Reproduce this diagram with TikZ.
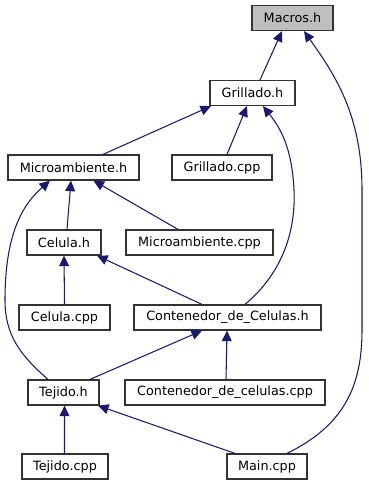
\documentclass[tikz,border=0pt]{standalone}
\usepackage{fontspec}
\setmainfont{DejaVu Sans}
\usetikzlibrary{arrows.meta,calc}
\definecolor{edgeblue}{HTML}{191970}
\definecolor{boxgray}{HTML}{BFBFBF}

\begin{document}
\begin{tikzpicture}[
        x=0.025cm, y=-0.025cm,
        file/.style={rectangle, draw=black!80, fill=white, line width=0.85pt, minimum height=0.625cm, inner sep=0pt, font=\fontsize{9.1}{11}\selectfont, text=black},
        dep/.style={-{Triangle[length=7.5pt,width=7pt]}, draw=edgeblue, fill=none, line width=0.75pt}
    ]
        \useasboundingbox (0,0) rectangle (368,485);

        \node[file, fill=boxgray, minimum width=2.025cm] (macrosh) at (292.5,18) {Macros.h};
        \node[file, minimum width=2.125cm] (grilladoh) at (252.5,93) {Grillado.h};
        \node[file, minimum width=3.275cm] (microh) at (73.5,167.5) {Microambiente.h};
        \node[file, minimum width=2.5cm] (grilladocpp) at (222,167.5) {Grillado.cpp};
        \node[file, minimum width=1.85cm] (celulah) at (64,242.5) {Celula.h};
        \node[file, minimum width=3.675cm] (microcpp) at (199.5,242.5) {Microambiente.cpp};
        \node[file, minimum width=2.275cm] (celulacpp) at (64.5,317.5) {Celula.cpp};
        \node[file, minimum width=4.675cm] (contenedorh) at (227.5,317.5) {Contenedor\_de\_Celulas.h};
        \node[file, minimum width=1.775cm] (tejidoh) at (63.5,392.5) {Tejido.h};
        \node[file, minimum width=5cm] (contenedorcpp) at (225,392.5) {Contenedor\_de\_celulas.cpp};
        \node[file, minimum width=2.15cm] (tejidocpp) at (65,466.5) {Tejido.cpp};
        \node[file, minimum width=2cm] (maincpp) at (267,466.5) {Main.cpp};

        % includes, arrow points at the included file
        \draw[dep] ($(grilladoh.north)+(7.5,0)$) -- ($(macrosh.south)+(-10.5,0)$);
        \draw[dep] ($(maincpp.north)+(20,0)$) .. controls (345,425) and (362,385) .. (362,330)
            -- (362,190) .. controls (362,115) and (335,75) .. ($(macrosh.south)+(11.5,0)$);
        \draw[dep] ($(microh.north)+(29.5,0)$) -- ($(grilladoh.south)+(-41.5,0)$);
        \draw[dep] ($(grilladocpp.north)+(5,0)$) -- ($(grilladoh.south)+(-5.5,0)$);
        \draw[dep] ($(contenedorh.north)+(17.5,0)$) .. controls (280,275) and (296,235) .. (294,190)
            .. controls (292,150) and (282,130) .. ($(grilladoh.south)+(10.5,0)$);
        \draw[dep] ($(celulah.north)+(3,0)$) -- ($(microh.south)+(-2.5,0)$);
        \draw[dep] ($(microcpp.north)+(-21.5,0)$) -- ($(microh.south)+(20,0)$);
        \draw[dep] ($(tejidoh.north)+(-15.5,0)$) .. controls (20,355) and (5,335) .. (5,300)
            .. controls (5,235) and (22,205) .. ($(microh.south)+(-23.5,0)$);
        \draw[dep] (celulacpp.north) -- (celulah.south);
        \draw[dep] ($(contenedorh.north)+(-25.5,0)$) -- ($(celulah.south)+(33,0)$);
        \draw[dep] ($(tejidoh.north)+(26.5,0)$) -- ($(contenedorh.south)+(-25.5,0)$);
        \draw[dep] ($(contenedorcpp.north)+(1,0)$) -- ($(contenedorh.south)+(-0.5,0)$);
        \draw[dep] ($(tejidocpp.north)+(-0.5,0)$) -- ($(tejidoh.south)+(1,0)$);
        \draw[dep] ($(maincpp.north)+(-32,0)$) -- ($(tejidoh.south)+(34.5,0)$);
    \end{tikzpicture}
\end{document}
